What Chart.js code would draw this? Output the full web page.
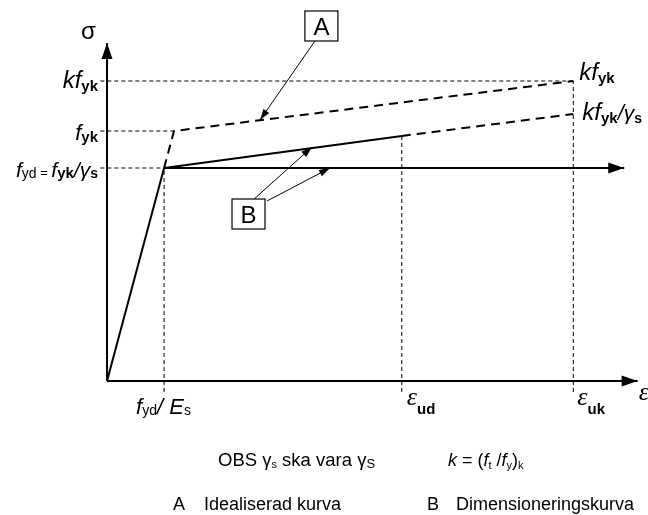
<!DOCTYPE html>
<html lang="sv">
<head>
<meta charset="UTF-8">
<title>Arbetskurva armering</title>
<script src="https://cdn.jsdelivr.net/npm/chart.js"></script>
<style>
  body { margin: 0; background: #fff; }
  canvas { display: block; }
</style>
</head>
<body>
<canvas id="myChart" width="648" height="515"></canvas>
<script>
// strain in per mille, stress in MPa
const epsKeys = ['fyd/Es', 'εud', 'εuk'];
const epsValues = [2.13, 11.0, 17.4];
const sigKeys = ['fyd', 'fyk', 'kfyk', 'kfyk/γs'];
const sigValues = [426, 500, 600, 534];
const axisEnd = [19.8, 676];       // x arrow tip, y arrow tip
const plateauEnd = 19.3;

// curves
const elasticX = [0, 2.13];
const elasticY = [0, 426];
const curveAX = [2.13, 2.5, 17.4];
const curveAY = [426, 500, 600];
const curveBX = [2.13, 11.0];
const curveBY = [426, 490];
const curveBextX = [11.0, 17.4];
const curveBextY = [490, 534];

// leader arrows (from box to curve)
const leaderAX = [7.76, 5.71];
const leaderAY = [680, 522];
const leaderB1X = [5.49, 7.65];
const leaderB1Y = [364, 468];
const leaderB2X = [5.97, 8.32];
const leaderB2Y = [360, 426];
const boxA = [8.0, 710];
const boxB = [5.28, 334];

const pts = (xs, ys) => xs.map((x, i) => ({ x: x, y: ys[i] }));
const guideStart = -0.25, guideBottom = -22;

function line(data, width, dash) {
  return { data: data, showLine: true, borderColor: '#000', borderWidth: width,
           borderDash: dash || [], pointRadius: 0, fill: false, tension: 0 };
}

const datasets = [
  line(pts([0, 0], [0, axisEnd[1]]), 2),
  line(pts([0, axisEnd[0]], [0, 0]), 2),
  line(pts(elasticX, elasticY), 2),
  line(pts(curveAX, curveAY), 2, [9, 6]),
  line(pts(curveBX, curveBY), 2),
  line(pts(curveBextX, curveBextY), 2, [9, 6]),
  line(pts([elasticX[1], plateauEnd], [sigValues[0], sigValues[0]]), 2),
  // guides
  line(pts([guideStart, epsValues[0]], [sigValues[0], sigValues[0]]), 1, [4, 3]),
  line(pts([guideStart, curveAX[1]], [sigValues[1], sigValues[1]]), 1, [4, 3]),
  line(pts([guideStart, epsValues[2]], [sigValues[2], sigValues[2]]), 1, [4, 3]),
  line(pts([epsValues[0], epsValues[0]], [guideBottom, sigValues[0]]), 1, [4, 3]),
  line(pts([epsValues[1], epsValues[1]], [guideBottom, curveBY[1]]), 1, [4, 3]),
  line(pts([epsValues[2], epsValues[2]], [guideBottom, sigValues[2]]), 1, [4, 3]),
  // leaders
  line(pts(leaderAX, leaderAY), 1),
  line(pts(leaderB1X, leaderB1Y), 1),
  line(pts(leaderB2X, leaderB2Y), 1)
];

function arrowHead(ctx, x1, y1, x2, y2, len, w) {
  const a = Math.atan2(y2 - y1, x2 - x1);
  ctx.beginPath();
  ctx.moveTo(x2, y2);
  ctx.lineTo(x2 - len * Math.cos(a) + w / 2 * Math.sin(a), y2 - len * Math.sin(a) - w / 2 * Math.cos(a));
  ctx.lineTo(x2 - len * Math.cos(a) - w / 2 * Math.sin(a), y2 - len * Math.sin(a) + w / 2 * Math.cos(a));
  ctx.closePath();
  ctx.fill();
}

// parts: [text, font, dy]
function rich(ctx, x, y, parts, align) {
  let total = 0;
  parts.forEach(p => { ctx.font = p[1]; total += ctx.measureText(p[0]).width; });
  let cx = align === 'right' ? x - total : align === 'center' ? x - total / 2 : x;
  parts.forEach(p => {
    ctx.font = p[1];
    ctx.fillText(p[0], cx, y + (p[2] || 0));
    cx += ctx.measureText(p[0]).width;
  });
}

const SANS = '"Liberation Sans", Arial, sans-serif';
const it = s => 'italic ' + s + 'px ' + SANS;
const rg = s => s + 'px ' + SANS;
const bd = s => 'bold ' + s + 'px ' + SANS;
const eps = s => 'italic ' + s + 'px "Liberation Serif", serif';

const labels = {
  id: 'labels',
  afterDatasetsDraw(chart) {
    const ctx = chart.ctx, sx = chart.scales.x, sy = chart.scales.y;
    const X = v => sx.getPixelForValue(v), Y = v => sy.getPixelForValue(v);
    ctx.save();
    ctx.fillStyle = '#000';
    ctx.strokeStyle = '#000';

    // axis and curve arrowheads
    arrowHead(ctx, X(0), Y(0), X(0), Y(axisEnd[1]), 16, 11);
    arrowHead(ctx, X(0), Y(0), X(axisEnd[0]), Y(0), 16, 11);
    arrowHead(ctx, X(elasticX[1]), Y(sigValues[0]), X(plateauEnd), Y(sigValues[0]), 16, 11);
    [[leaderAX, leaderAY], [leaderB1X, leaderB1Y], [leaderB2X, leaderB2Y]].forEach(l => {
      arrowHead(ctx, X(l[0][0]), Y(l[1][0]), X(l[0][1]), Y(l[1][1]), 11, 7);
    });

    // boxes
    ctx.lineWidth = 1.2;
    [[boxA, 'A'], [boxB, 'B']].forEach(b => {
      const cx = X(b[0][0]), cy = Y(b[0][1]);
      ctx.fillStyle = '#fff';
      ctx.fillRect(cx - 16.5, cy - 15, 33, 30);
      ctx.strokeRect(cx - 16.5, cy - 15, 33, 30);
      ctx.fillStyle = '#000';
      ctx.font = rg(24);
      ctx.textAlign = 'center';
      ctx.fillText(b[1], cx, cy + 9);
      ctx.textAlign = 'left';
    });

    ctx.textBaseline = 'alphabetic';
    // axis names
    ctx.font = rg(24);
    ctx.fillText('σ', X(0) - 26, Y(axisEnd[1]) - 4);
    ctx.font = eps(26);
    ctx.fillText('ε', X(axisEnd[0]) + 1, Y(0) + 19);

    // stress labels, left of axis
    const lx = X(0) - 9;
    rich(ctx, lx, Y(sigValues[2]) + 7, [['kf', it(24)], ['yk', bd(15), 3]], 'right');
    rich(ctx, lx, Y(sigValues[1]) + 9, [['f', it(22)], ['yk', bd(15), 2]], 'right');
    rich(ctx, lx, Y(sigValues[0]) + 9, [['f', it(21)], ['yd', rg(14), 1], [' = ', rg(13)],
      ['f', it(21)], ['yk', bd(15), 1], ['/', it(21)], ['γ', it(21)], ['s', bd(14), 1]], 'right');

    // stress labels, right end
    const rx = X(epsValues[2]) + 6;
    rich(ctx, rx, Y(sigValues[2]) - 1, [['kf', it(24)], ['yk', bd(15), 3]], 'left');
    rich(ctx, rx + 3, Y(sigValues[3]) + 6, [['kf', it(24)], ['yk', bd(15), 3], ['/', it(22)],
      ['γ', it(21)], ['s', bd(14), 3]], 'left');

    // strain labels
    const by = Y(0);
    rich(ctx, X(epsValues[0]) - 28, by + 33, [['f', it(22)], ['yd', rg(14), 1], ['/ ', it(22)],
      ['E', it(22)], ['s', rg(14), 1]], 'left');
    rich(ctx, X(epsValues[1]) + 5, by + 24, [['ε', eps(26)], ['ud', bd(15), 9]], 'left');
    rich(ctx, X(epsValues[2]) + 4, by + 24, [['ε', eps(26)], ['uk', bd(15), 9]], 'left');

    // notes below
    rich(ctx, 218, 466, [['OBS γ', rg(18.5)], ['s', rg(11), 2], [' ska vara γ', rg(18.5)], ['S', rg(13), 2]], 'left');
    rich(ctx, 448, 466, [['k', it(18)], [' = (', rg(18)], ['f', it(18)], ['t', rg(11), 3],
      [' /', rg(18)], ['f', it(18)], ['y', rg(11), 3], [')', rg(18)], ['k', rg(11), 3]], 'left');
    ctx.font = rg(18);
    ctx.fillText('A', 173, 510);
    ctx.fillText('Idealiserad kurva', 204, 510);
    ctx.fillText('B', 427, 510);
    ctx.fillText('Dimensioneringskurva', 456, 510);
    ctx.restore();
  }
};

new Chart(document.getElementById('myChart'), {
  type: 'scatter',
  data: { datasets: datasets },
  options: {
    responsive: false,
    animation: false,
    layout: { padding: 0 },
    plugins: { legend: { display: false }, tooltip: { enabled: false } },
    scales: {
      x: { type: 'linear', display: false, min: -3.993, max: 20.187 },
      y: { type: 'linear', display: false, min: -268, max: 762 }
    }
  },
  plugins: [labels]
});
</script>
</body>
</html>
